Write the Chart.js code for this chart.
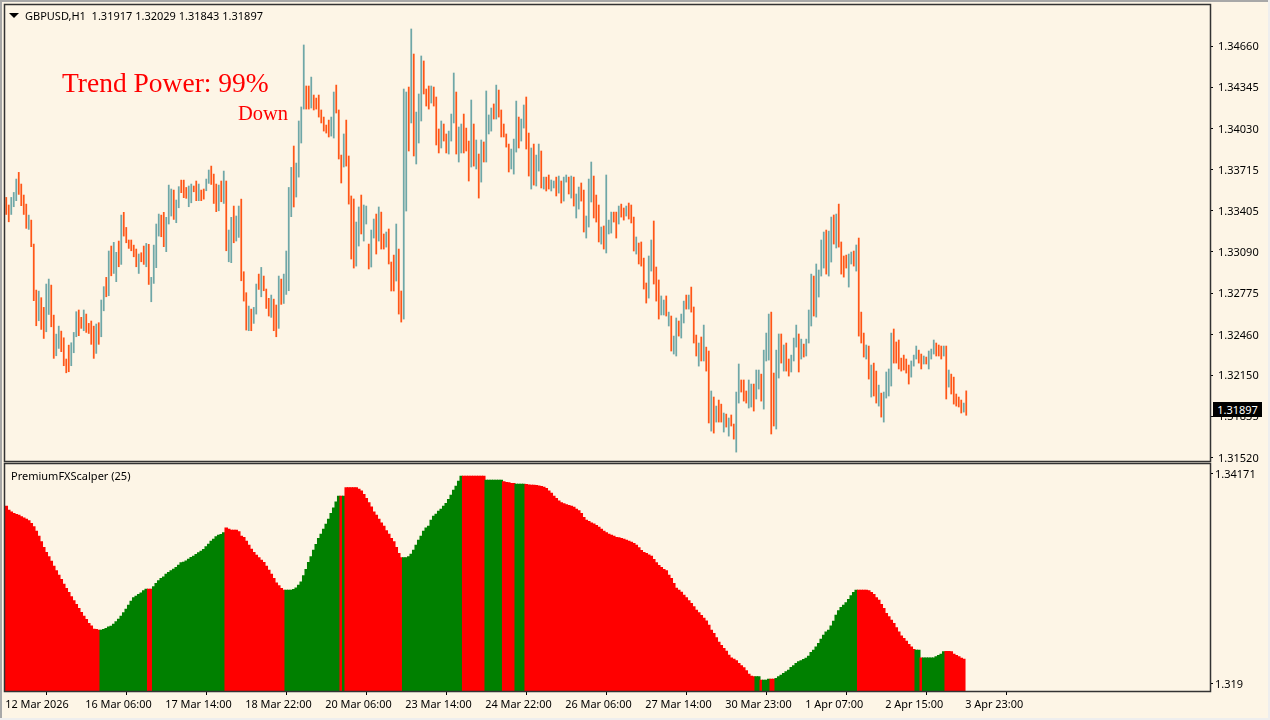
<!DOCTYPE html>
<html>
<head>
<meta charset="utf-8">
<title>GBPUSD,H1</title>
<script src="https://cdn.jsdelivr.net/npm/chart.js@4"></script>
<style>
html, body { margin: 0; padding: 0; background: #FDF5E6; overflow: hidden; }
#wrap { position: relative; width: 1270px; height: 720px; font-family: "Noto Sans", sans-serif; }
canvas { position: absolute; left: 0; }
#priceChart { top: 0; }
#oscChart { top: 462px; }
.edge { position: absolute; background: #a8a8a8; }
.txt { position: absolute; white-space: pre; color: #000; font-size: 11px; line-height: 14px; }
.trend { font-family: "Liberation Serif", serif; color: #ff0000; }
#arrow { position: absolute; left: 9px; top: 13px; width: 0; height: 0; border-left: 5px solid transparent; border-right: 5px solid transparent; border-top: 5px solid #000; }
#lastPrice { position: absolute; left: 1213px; top: 402px; width: 49px; height: 15px; background: #000; color: #fff; text-align: center; font-size: 11px; line-height: 15px; }
</style>
</head>
<body>
<div id="wrap">
    <canvas id="priceChart" width="1270" height="470"></canvas>
    <canvas id="oscChart" width="1270" height="258"></canvas>
    <div class="edge" style="left:0;top:0;width:1270px;height:2px"></div>
    <div class="edge" style="left:0;top:0;width:2px;height:720px"></div>
    <div class="edge" style="left:0;top:718px;width:1270px;height:2px;background:#eeeeee"></div>
    <div class="edge" style="left:1268px;top:0;width:2px;height:720px;background:#eeeeee"></div>
    <div id="arrow"></div>
    <div class="txt" style="left:25px;top:9px">GBPUSD,H1  1.31917 1.32029 1.31843 1.31897</div>
    <div class="txt trend" style="left:62px;top:67px;font-size:27.5px;line-height:32px">Trend Power: 99%</div>
    <div class="txt trend" style="left:238px;top:101px;font-size:20.5px;line-height:24px">Down</div>
    <div class="txt" style="left:11px;top:469px">PremiumFXScalper (25)</div>
    <div id="lastPrice">1.31897</div>
</div>
<script>
// All prices in points (1 point = 0.00001)
var highs = [
133505,133447,133505,133543,133645,133696,133607,133523,133454,133370,
133332,133149,132798,132790,132740,132666,132844,132882,132836,132607,
132462,132523,132485,132434,132272,132378,132396,132475,132633,132646,
132590,132646,132615,132544,132562,132523,132539,132549,132722,132824,
132895,133096,133134,133162,133086,133172,133370,133391,133276,133180,
133180,133141,133111,133073,133083,133134,133154,133147,132895,133141,
133302,133378,133370,133391,133353,133599,133569,133561,133485,133587,
133637,133637,133581,133592,133607,133592,133630,133607,133561,133569,
133645,133714,133744,133683,133607,133599,133630,133706,133630,133256,
133353,133439,133363,133439,133492,132938,132778,132676,132653,132666,
132844,132920,132971,132905,132806,132735,132760,132729,132684,132905,
132882,132920,133096,133581,133734,133897,133767,134088,134195,134668,
134355,134355,134423,134286,134263,134286,134172,134118,134057,134095,
134118,134309,134362,134172,133828,133989,134095,133821,133516,133493,
133317,133432,133523,133447,133439,133149,133256,133340,133378,133432,
133393,133226,133241,133264,133012,133065,133302,133111,132791,134332,
134309,134347,134790,134599,134156,134294,134584,134546,134332,134355,
134355,134347,134271,134027,134088,134065,133989,134011,134141,134454,
134309,134042,134065,134141,134034,133935,134248,134065,133943,133836,
133943,133928,134317,134134,134187,134218,134362,134324,134172,134065,
133989,133912,133874,133950,134240,134118,134103,134210,134271,133996,
133882,133912,133828,133912,133859,133660,133660,133676,133638,133630,
133660,133668,133630,133660,133676,133660,133668,133660,133531,133584,
133615,133561,133363,133645,133775,133668,133523,133447,133279,133287,
133676,133332,133393,133393,133393,133439,133454,133424,133439,133462,
133447,133355,133203,133157,133165,133042,132852,133058,133180,133325,
132974,132875,132753,132722,132753,132630,132600,132447,132585,132562,
132615,132714,132760,132760,132821,132669,132455,132394,132440,132531,
132363,132333,132028,131982,131913,131959,131928,131860,131852,131822,
131845,131776,132020,132234,132112,132112,132028,132112,132081,132081,
132188,132188,132157,132340,132470,132615,132630,132165,132340,132463,
132463,132379,132394,132272,132302,132432,132531,132463,132424,132386,
132424,132646,132920,132905,132997,132951,133180,133241,133256,133248,
133355,133371,133378,133454,133165,133058,133065,133073,133088,133096,
133142,133195,132630,132470,132379,132371,132226,132241,132180,132073,
132012,132020,132173,132196,132470,132501,132402,132417,132279,132302,
132272,132226,132257,132302,132371,132340,132310,132295,132287,132333,
132348,132417,132394,132379,132371,132371,132371,132188,132157,132134,
132005,131982,131959,131936,132029
];
var lows = [
133375,133319,133375,133434,133480,133528,133442,133375,133269,133261,
133129,132717,132526,132564,132498,132429,132480,132612,132518,132277,
132297,132353,132328,132221,132167,132175,132221,132320,132442,132450,
132506,132488,132475,132467,132384,132277,132315,132384,132442,132640,
132747,132755,132907,132925,132862,132976,132994,133210,133159,133116,
133098,133052,132976,132925,133014,132994,132976,132841,132709,132849,
132969,133210,133205,133129,133091,133302,133363,133337,133312,133426,
133541,133503,133498,133434,133464,133548,133480,133480,133480,133492,
133556,133612,133604,133459,133396,133403,133472,133459,133098,133014,
133007,133159,133172,133200,132869,132714,132493,132488,132488,132544,
132615,132803,132747,132793,132658,132600,132590,132488,132442,132506,
132689,132696,132765,132793,133358,133432,133508,133660,133920,134179,
134179,134179,134187,134172,134179,134118,134073,134011,133996,133966,
133973,133958,134149,133798,133615,133737,133744,133454,133035,132966,
132981,133134,133226,133172,133302,132959,132974,133195,133073,133172,
133111,133111,133126,132997,132791,132791,132867,132615,132554,132577,
133401,133859,134073,133821,133760,133920,134088,134294,134202,134179,
134225,134202,133905,133844,133882,133935,133844,133836,133935,134073,
133836,133775,133844,133844,133859,133630,133737,133744,133722,133500,
133622,133775,133775,133989,134011,134103,134103,134118,133966,133966,
133889,133699,133722,133683,133851,133882,133935,134034,133874,133668,
133569,133599,133592,133706,133577,133569,133554,133569,133554,133577,
133516,133538,133462,133477,133622,133531,133500,133439,133348,133416,
133477,133241,133195,133279,133470,133348,133317,133165,133149,133111,
133081,133226,133233,133317,133195,133302,133355,133332,133363,133340,
133310,133096,133073,132997,132981,132806,132699,132737,132943,132844,
132714,132577,132608,132608,132600,132524,132333,132310,132295,132447,
132432,132547,132653,132653,132630,132394,132295,132218,132257,132257,
132180,131784,131722,131707,131791,131791,131791,131715,131753,131684,
131761,131661,131562,131936,132020,131951,131936,131898,131906,131875,
131967,132043,131951,131890,132257,132264,131700,131761,131738,132127,
132241,132180,132180,132142,132173,132257,132363,132173,132272,132287,
132295,132394,132524,132600,132592,132745,132905,132966,132920,132905,
133012,133149,133119,133126,132920,132897,132966,132821,132997,132981,
132943,132447,132394,132287,132272,132119,131982,131990,131936,131913,
131829,131791,131974,131990,132066,132241,132241,132196,132180,132188,
132165,132081,132134,132218,132272,132241,132196,132234,132234,132196,
132272,132310,132295,132295,132272,132295,131967,132058,132005,131928,
131913,131906,131860,131867,131843
];
// u = up bar, d = down bar
var barDirs = [
"dduuuddddu","dddudduudd","uudddduuud","dudddduduu","duduududdd",
"dddudduduu","uudduuuduu","ddduuddudd","uudddududu","uduudddudu",
"ududdduddu","duuuuduuuu","dduddddddd","uudddudddd","uuduuduudu",
"dduddduddu","ududuuuddd","udddudduuu","duudddudud","uduuududdd",
"dduuuduudd","uduududduu","duduududuu","dduuudddud","uuudduddud",
"ddudddduud","dduududuud","uududddudu","ddududdudu","dduuddduud",
"uuduuudduu","dudduuudud","uuuduuuudu","ududddduud","udddududdu",
"duuuuddddd","dduuuddudu","uudddududd","dddud"
].join("");

var oscValues = [
133825,133781,133763,133745,133734,133727,133709,133698,133684,133666,
133637,133601,133554,133500,133439,133377,133323,133277,133230,133176,
133125,133078,133031,132981,132934,132891,132844,132801,132761,132718,
132675,132635,132599,132556,132530,132494,132491,132483,132483,132491,
132501,132519,132527,132548,132574,132602,132635,132671,132711,132754,
132797,132833,132851,132869,132887,132909,132927,132927,132927,132952,
132988,133017,133042,133060,133089,133107,133125,133143,133161,133186,
133212,133219,133233,133251,133269,133284,133302,133320,133338,133356,
133385,133414,133446,133468,133493,133511,133518,133536,133590,133576,
133565,133565,133565,133547,133500,133486,133446,133403,133359,133323,
133295,133266,133240,133215,133176,133132,133089,133042,132995,132963,
132934,132916,132916,132916,132916,132923,132941,132970,133006,133071,
133140,133215,133277,133349,133410,133475,133522,133576,133630,133684,
133745,133806,133871,133933,133933,133933,134023,134023,134023,134023,
134023,134008,133990,133951,133907,133861,133817,133763,133727,133684,
133644,133608,133558,133522,133475,133439,133377,133313,133266,133266,
133266,133277,133305,133349,133403,133457,133500,133554,133590,133608,
133673,133716,133738,133770,133792,133825,133853,133897,133943,133998,
134041,134095,134149,134149,134149,134149,134149,134149,134149,134149,
134149,134149,134106,134106,134106,134106,134106,134106,134106,134088,
134080,134077,134070,134070,134062,134062,134062,134062,134059,134055,
134052,134052,134048,134044,134037,134030,134016,133990,133965,133933,
133907,133882,133861,133850,133839,133832,133825,133814,133792,133774,
133745,133702,133673,133659,133644,133633,133615,133597,133576,133554,
133536,133522,133511,133500,133486,133482,133475,133468,133457,133446,
133435,133421,133403,133374,133345,133323,133313,133298,133284,133248,
133212,133183,133161,133140,133125,133078,133042,132988,132938,132916,
132894,132862,132833,132801,132772,132736,132700,132671,132642,132613,
132584,132538,132483,132447,132401,132354,132318,132285,132256,132213,
132184,132170,132152,132123,132098,132076,132044,132008,131986,131979,
131979,131979,131943,131943,131943,131954,131954,131954,131961,131979,
131997,132015,132033,132051,132080,132098,132123,132141,132152,132166,
132181,132202,132242,132267,132303,132339,132386,132429,132465,132483,
132530,132581,132646,132693,132729,132754,132779,132815,132855,132891,
132916,132916,132916,132916,132916,132909,132891,132869,132833,132808,
132761,132718,132664,132628,132592,132556,132509,132465,132422,132393,
132364,132328,132303,132274,132267,132267,132184,132184,132184,132184,
132184,132184,132195,132209,132224,132249,132253,132253,132249,132224,
132209,132195,132181,132170
];
// run lengths, alternating red / green, starting red
var oscRuns = [38,19,2,29,24,22,1,1,23,24,9,7,5,4,92,2,1,3,2,33,23,2,1,9,8];

var timeLabels = ['12 Mar 2026','16 Mar 06:00','17 Mar 14:00','18 Mar 22:00','20 Mar 06:00','23 Mar 14:00','24 Mar 22:00','26 Mar 06:00','27 Mar 14:00','30 Mar 23:00','1 Apr 07:00','2 Apr 15:00','3 Apr 23:00'];
var priceTicks = [1.34660,1.34345,1.34030,1.33715,1.33405,1.33090,1.32775,1.32460,1.32150,1.31835,1.31520];
var oscTicks = [1.34171,1.319];

var BARS_ON_SCREEN = 482;   // chart width / bar step
var LABEL_STEP = 32;

var UP_COLOR = 'rgba(95,158,160,0.9)', DOWN_COLOR = 'rgba(255,69,0,0.9)';
var AXIS_FONT = { family: '"Noto Sans", sans-serif', size: 11 };

// chart frame, the axis border alone does not close the box
var framePlugin = {
    id: 'frame',
    afterDraw: function(chart) {
        var a = chart.chartArea, c = chart.ctx;
        c.save();
        c.strokeStyle = '#333';
        c.lineWidth = 1.5;
        c.strokeRect(a.left - 0.5, a.top - 0.5, a.right - a.left + 1, a.bottom - a.top + 1);
        c.restore();
    }
};

// labels at the ends of the axis must not shrink the plot box
function fitY(s) {
    s.width = 60;
    s.paddingTop = 0;
    s.paddingBottom = 0;
}

var slots = [];
for (var i = 0; i < BARS_ON_SCREEN; i++) slots.push(i);

var priceData = highs.map(function(h, i) { return [lows[i] / 100000, h / 100000]; });
var priceColors = highs.map(function(h, i) { return barDirs[i] == 'u' ? UP_COLOR : DOWN_COLOR; });

var oscColors = [];
oscRuns.forEach(function(n, r) {
    for (var k = 0; k < n; k++) oscColors.push(r % 2 ? '#008000' : '#FF0000');
});

new Chart(document.getElementById('priceChart'), {
    type: 'bar',
    plugins: [framePlugin],
    data: {
        labels: slots,
        datasets: [{ data: priceData, backgroundColor: priceColors, barThickness: 1.1, borderWidth: 0 }]
    },
    options: {
        responsive: false,
        animation: false,
        devicePixelRatio: 1,
        events: [],
        layout: { padding: { left: 5, top: 5, right: 0, bottom: 9 } },
        plugins: { legend: { display: false }, tooltip: { enabled: false } },
        scales: {
            x: { display: false },
            y: {
                position: 'right',
                min: 1.31494,
                max: 1.34973,
                afterFit: fitY,
                afterBuildTicks: function(s) { s.ticks = priceTicks.map(function(v) { return { value: v }; }); },
                grid: { drawOnChartArea: false, tickLength: 3, tickColor: '#000' },
                border: { color: '#333' },
                ticks: {
                    color: '#000',
                    font: AXIS_FONT,
                    padding: 5,
                    labelOffset: 1,
                    callback: function(v) { return v.toFixed(5); }
                }
            }
        }
    }
});

new Chart(document.getElementById('oscChart'), {
    type: 'bar',
    plugins: [framePlugin],
    data: {
        labels: slots,
        datasets: [{
            data: oscValues.map(function(v) { return v / 100000; }),
            backgroundColor: oscColors,
            barThickness: 2.9,
            borderWidth: 0
        }]
    },
    options: {
        responsive: false,
        animation: false,
        devicePixelRatio: 1,
        events: [],
        layout: { padding: { left: 5, top: 2, right: 0, bottom: 0 } },
        plugins: { legend: { display: false }, tooltip: { enabled: false } },
        scales: {
            x: {
                afterFit: function(s) { s.height = 29; s.paddingLeft = 0; s.paddingRight = 0; },
                grid: { drawOnChartArea: false, tickLength: 4, tickColor: '#000' },
                border: { color: '#333' },
                ticks: {
                    color: '#000',
                    font: { family: AXIS_FONT.family, size: 10.9 },
                    autoSkip: false,
                    maxRotation: 0,
                    align: 'start',
                    padding: 3,
                    labelOffset: -1,
                    callback: function(v, idx) {
                        return idx % LABEL_STEP == 0 ? timeLabels[idx / LABEL_STEP] : null;
                    }
                }
            },
            y: {
                position: 'right',
                min: 1.31824,
                max: 1.34279,
                afterFit: fitY,
                afterBuildTicks: function(s) { s.ticks = oscTicks.map(function(v) { return { value: v }; }); },
                grid: { drawOnChartArea: false, tickLength: 3, tickColor: '#000' },
                border: { color: '#333' },
                ticks: {
                    color: '#000',
                    font: AXIS_FONT,
                    padding: 2,
                    labelOffset: 1,
                    callback: function(v) { return v == 1.319 ? '1.319' : v.toFixed(5); }
                }
            }
        }
    }
});
</script>
</body>
</html>
